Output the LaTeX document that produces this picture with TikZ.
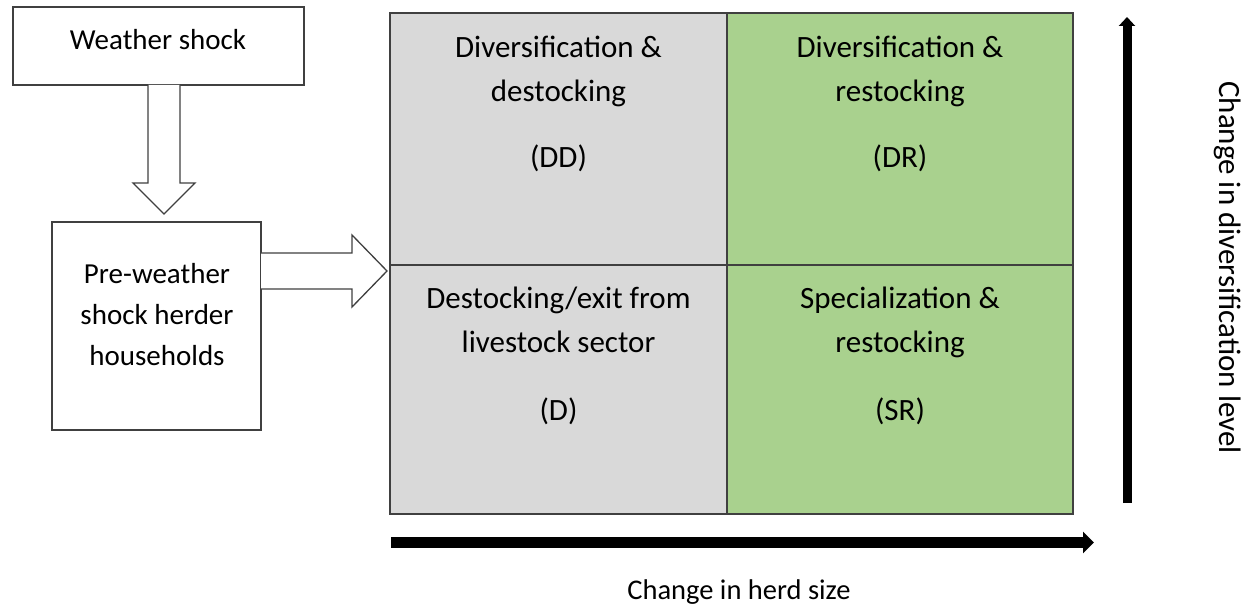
\documentclass[tikz,border=0pt]{standalone}
\usepackage{fontspec}
\setmainfont{Carlito}
\usetikzlibrary{arrows.meta,calc,positioning}

\definecolor{cellgray}{HTML}{D9D9D9}
\definecolor{cellgreen}{HTML}{A9D18E}
\definecolor{edgegray}{HTML}{404040}

\begin{document}
\begin{tikzpicture}[x=1pt, y=-1pt,
    box/.style={draw=edgegray, line width=1.6pt, fill=white, inner sep=0pt, outer sep=0pt},
    cell/.style={draw=edgegray, line width=1.8pt, inner sep=0pt, outer sep=0pt},
    celltext/.style={align=center, inner sep=0pt, font=\fontsize{31}{43.5}\selectfont},
    sidetext/.style={align=center, inner sep=0pt, font=\fontsize{29}{41}\selectfont},
    axislabel/.style={inner sep=0pt, font=\fontsize{28.5}{34}\selectfont},
    blockarrow/.style={draw=edgegray, line width=1.3pt, fill=white, line join=miter},
    haxis/.style={line width=11pt, -{Triangle[width=21pt, length=11pt]}},
    vaxis/.style={line width=9pt, -{Triangle[width=16pt, length=9pt]}}
]
    \useasboundingbox (0,0) rectangle (1244,609);

    % --- Left boxes ---
    \node[box, minimum width=291pt, minimum height=78pt] (weather) at (158.5,46) {};
    \node[sidetext] (weather-txt) at (158,39.5) {Weather shock};

    \node[box, minimum width=209pt, minimum height=208pt] (herders) at (156.5,326) {};
    \node[sidetext] (herders-txt) at (157,315) {Pre-weather\\shock herder\\households};

    % --- Quadrants ---
    \node[cell, fill=cellgray, minimum width=337pt, minimum height=252pt] (dd) at (558.5,139) {};
    \node[cell, fill=cellgreen, minimum width=346pt, minimum height=252pt, right=0pt of dd] (dr) {};
    \node[cell, fill=cellgray, minimum width=337pt, minimum height=249pt, below=0pt of dd] (d) {};
    \node[cell, fill=cellgreen, minimum width=346pt, minimum height=249pt, right=0pt of d] (sr) {};

    \node[celltext, below=23pt of dd.north] (dd-txt) {Diversification \&\\destocking\\[23pt](DD)};
    \node[celltext, below=23pt of dr.north] (dr-txt) {Diversification \&\\restocking\\[23pt](DR)};
    \node[celltext, below=22pt of d.north] (d-txt) {Destocking/exit from\\livestock sector\\[25pt](D)};
    \node[celltext, below=22pt of sr.north] (sr-txt) {Specialization \&\\restocking\\[25pt](SR)};

    % --- Block arrows ---
    \coordinate (down-start) at ($(weather.south)+(5.5,0)$);
    \coordinate (down-tip) at ($(herders.north)+(7.5,-8)$);
    \draw[blockarrow] ($(down-start)+(-16,0)$) -- ($(down-tip)+(-16,-31)$) -- ($(down-tip)+(-31,-31)$)
        -- (down-tip) -- ($(down-tip)+(31,-31)$) -- ($(down-tip)+(16,-31)$) -- ($(down-start)+(16,0)$);

    \coordinate (right-tip) at ($(d.north west)+(-3,6)$);
    \coordinate (right-start) at (herders.east |- right-tip);
    \draw[blockarrow] ($(right-start)+(0,-18)$) -- ($(right-tip)+(-35,-18)$) -- ($(right-tip)+(-35,-36)$)
        -- (right-tip) -- ($(right-tip)+(-35,36)$) -- ($(right-tip)+(-35,18)$) -- ($(right-start)+(0,18)$);

    % --- Axes ---
    \coordinate (h-start) at (391,542.5);
    \coordinate (h-end) at (1094,542.5);
    \coordinate (v-start) at (1127,503);
    \coordinate (v-end) at (1127,17);
    \draw[haxis] (h-start) -- (h-end);
    \draw[vaxis] (v-start) -- (v-end);

    \node[axislabel] (herd-label) at (739,592) {Change in herd size};
    \node[axislabel, font=\fontsize{31}{36}\selectfont, rotate=-90] (div-label) at (1228,267.5) {Change in diversification level};
\end{tikzpicture}
\end{document}
